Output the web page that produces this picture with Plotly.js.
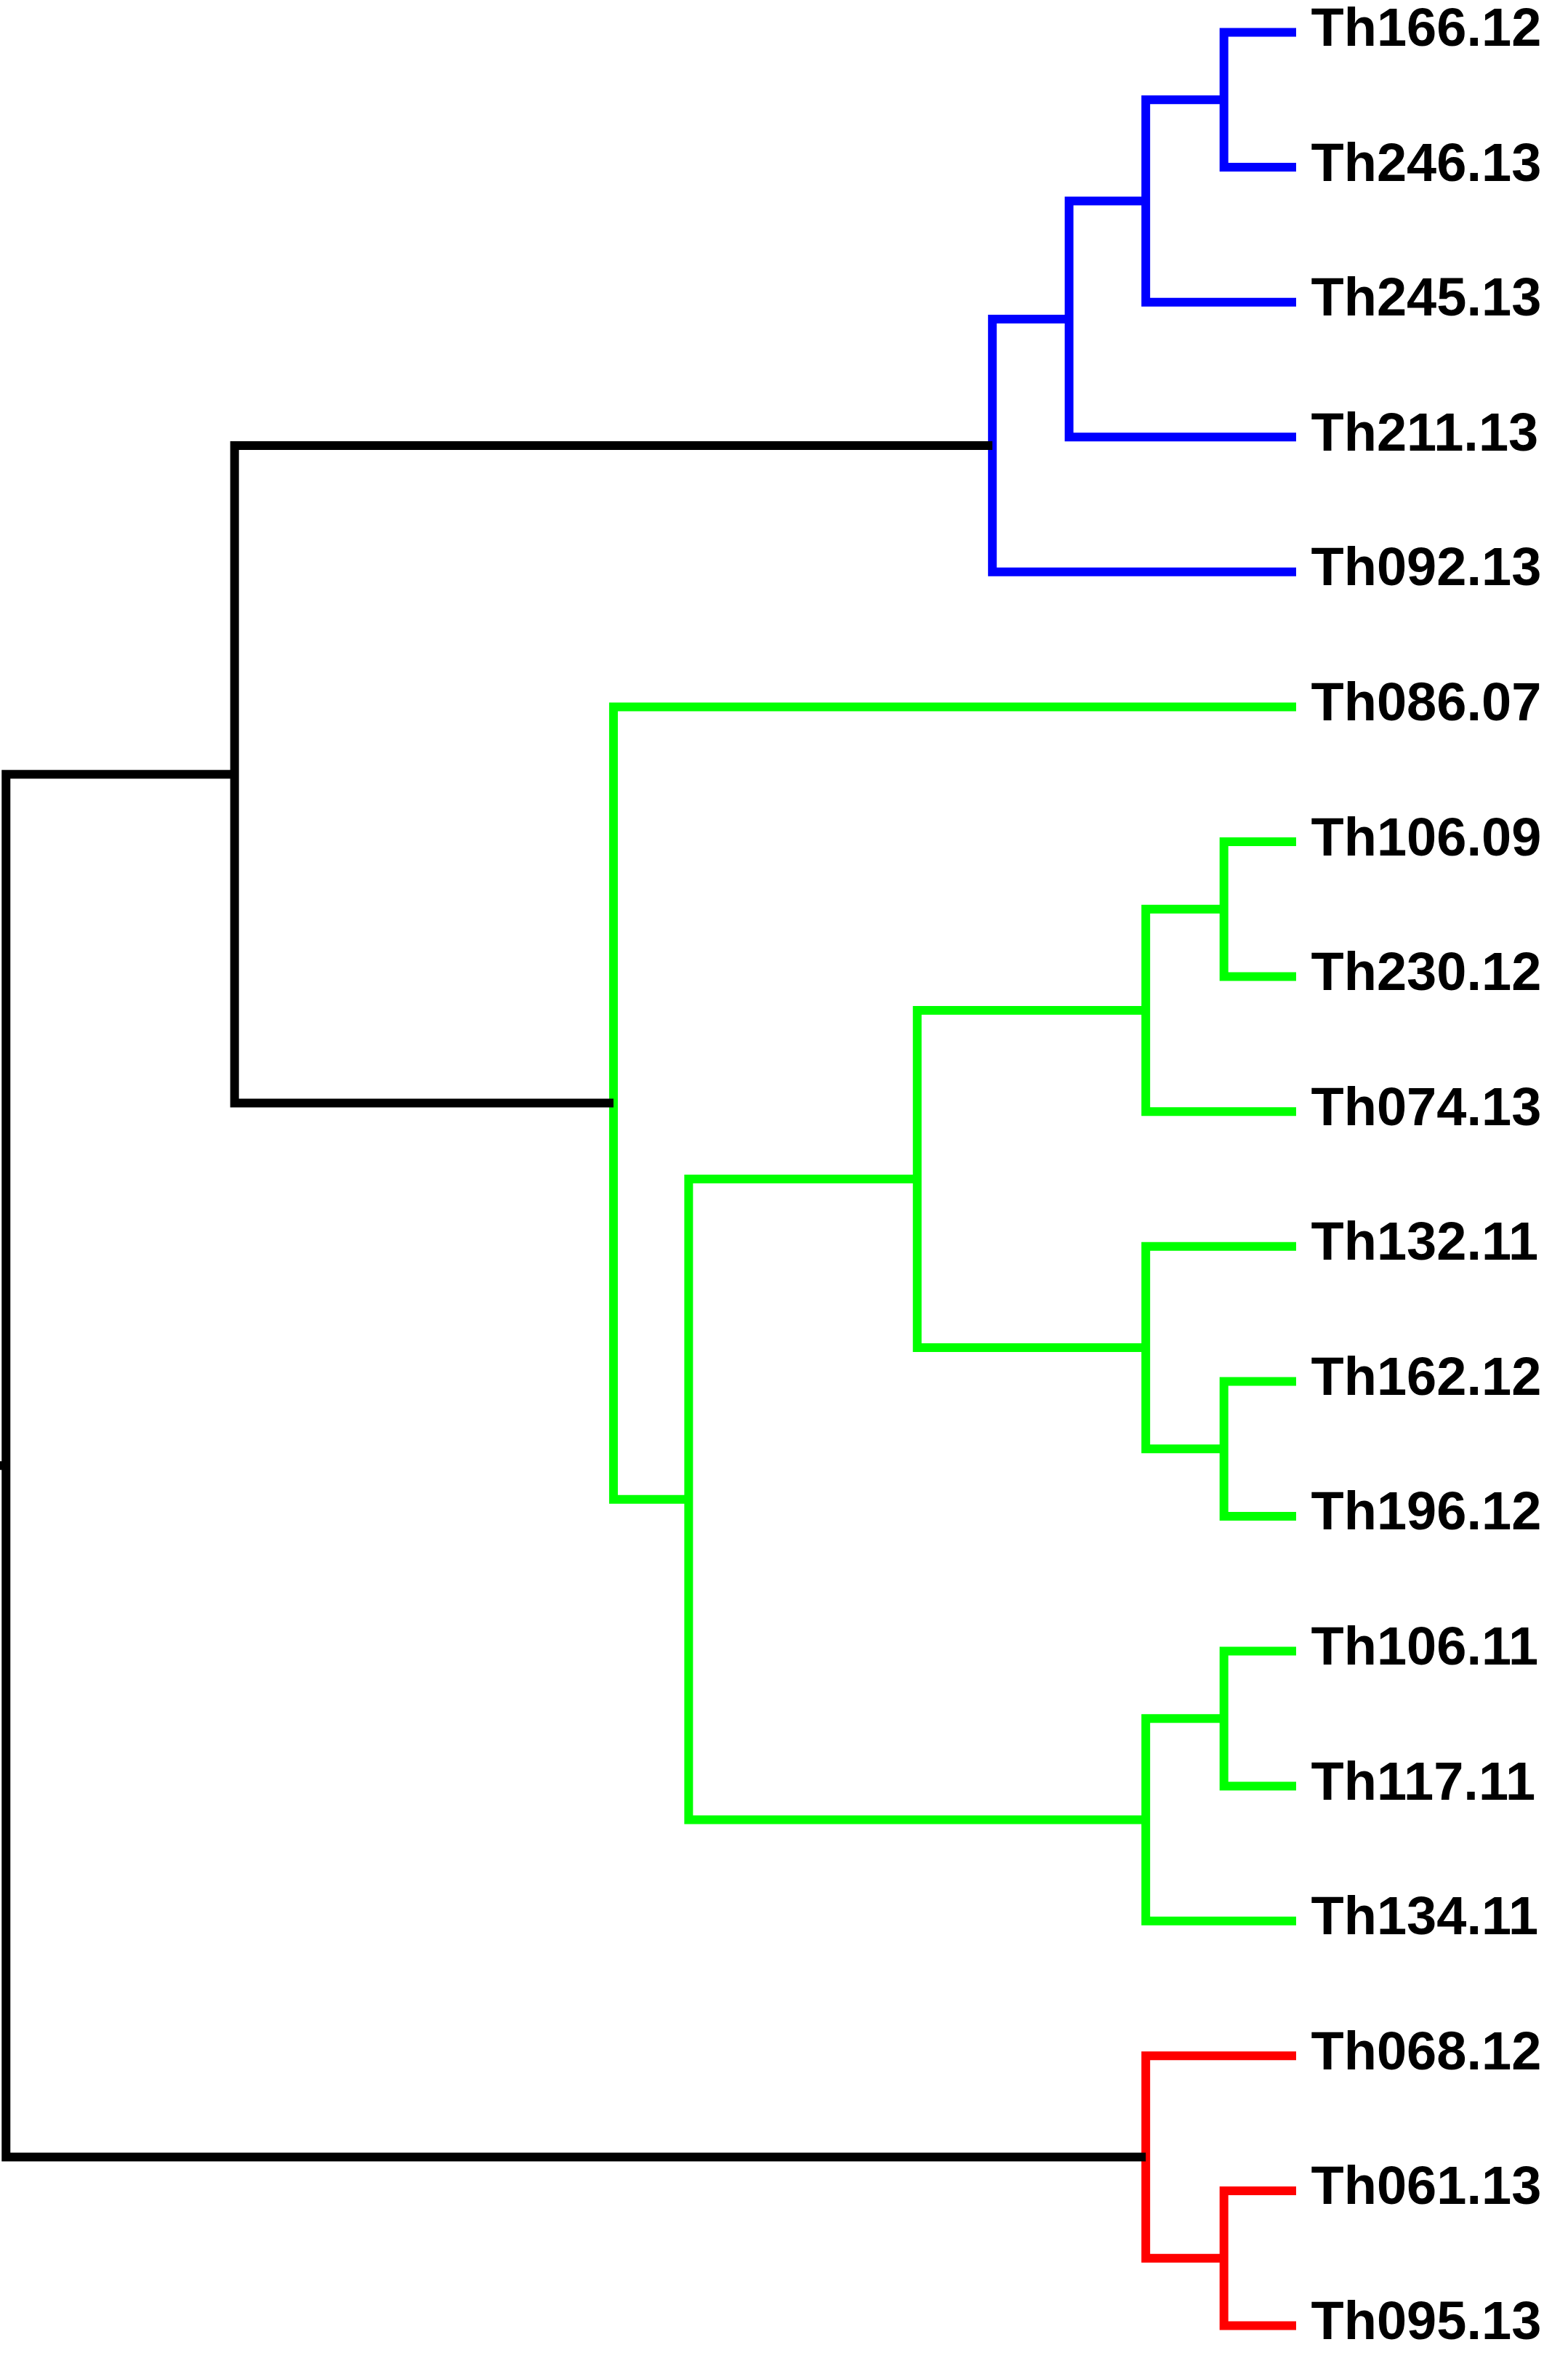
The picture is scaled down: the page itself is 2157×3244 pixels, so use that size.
<!DOCTYPE html>
<html>
<head>
<meta charset="utf-8">
<script src="https://cdn.plot.ly/plotly-3.0.1.min.js"></script>
<style>html,body{margin:0;padding:0;background:#fff}</style>
</head>
<body>
<div id="plot" style="width:2157px;height:3244px"></div>
<script>
// Leaf labels, top to bottom
var leaves = ['Th166.12','Th246.13','Th245.13','Th211.13','Th092.13','Th086.07',
  'Th106.09','Th230.12','Th074.13','Th132.11','Th162.12','Th196.12',
  'Th106.11','Th117.11','Th134.11','Th068.12','Th061.13','Th095.13'];

// Merges: left child, right child, height, colour. Children < 18 are leaves,
// otherwise they refer to merge (index - 18)
var mergeLeft   = [0, 18, 19, 20, 6, 22, 10, 9, 23, 12, 27, 26, 5, 16, 15, 21, 32];
var mergeRight  = [1, 2, 3, 4, 7, 8, 11, 24, 25, 13, 14, 28, 29, 17, 31, 30, 33];
var mergeHeight = [0.48, 1.0, 1.51, 2.02, 0.48, 1.0, 0.48, 1.0, 2.52, 0.48, 1.0, 4.04, 4.54, 0.48, 1.0, 7.06, 8.58];
var mergeColor  = ['b','b','b','b','g','g','g','g','g','g','g','g','g','r','r','k','k'];

var colors = {b: '#0000ff', g: '#00ff00', r: '#ff0000', k: '#000000'};
var n = leaves.length;
var pos = [], hgt = [];
for (var i = 0; i < n; i++) { pos.push(i); hgt.push(0); }

var data = [];
for (var m = 0; m < mergeLeft.length; m++) {
  var a = mergeLeft[m], b = mergeRight[m], h = mergeHeight[m];
  data.push({
    x: [hgt[a], h, h, hgt[b]],
    y: [pos[a], pos[a], pos[b], pos[b]],
    mode: 'lines', type: 'scatter', hoverinfo: 'none',
    line: {color: colors[mergeColor[m]], width: 12}
  });
  pos.push((pos[a] + pos[b]) / 2);
  hgt.push(h);
}
// short stub on the root
var root = pos.length - 1;
data.push({x: [hgt[root], 9.0], y: [pos[root], pos[root]], mode: 'lines',
  hoverinfo: 'none', line: {color: '#000', width: 12}});

// leaf labels
data.push({
  x: leaves.map(function () { return 0; }),
  y: leaves.map(function (l, i) { return i; }),
  text: leaves.map(function (l) { return ' ' + l; }),
  mode: 'text', textposition: 'middle right', hoverinfo: 'none',
  textfont: {family: 'Liberation Sans, Arial, sans-serif', size: 74, color: '#000', weight: 'bold'},
  cliponaxis: false
});

var layout = {
  width: 2157, height: 3244,
  margin: {l: 0, r: 374, t: 0, b: 0},
  showlegend: false,
  paper_bgcolor: '#fff', plot_bgcolor: '#fff',
  xaxis: {range: [8.62, 0], visible: false, showgrid: false, zeroline: false},
  yaxis: {range: [17.24, -0.24], visible: false, showgrid: false, zeroline: false}
};

Plotly.newPlot('plot', data, layout, {staticPlot: true});
</script>
</body>
</html>
